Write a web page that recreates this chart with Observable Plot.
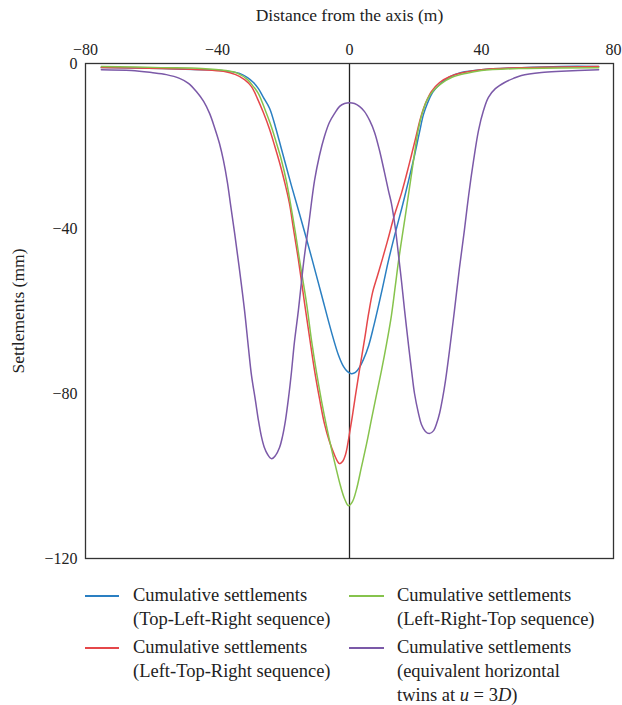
<!DOCTYPE html>
<html>
<head>
<meta charset="utf-8">
<script src="https://cdn.jsdelivr.net/npm/d3@7"></script>
<script src="https://cdn.jsdelivr.net/npm/@observablehq/plot@0.6"></script>
<style>
  body { margin: 0; background: #fff; font-family: "Liberation Serif", "DejaVu Serif", serif; }
  #chart { position: relative; width: 622px; height: 705px; }
  .legend { position: absolute; left: 0; top: 583px; width: 622px; font-size: 18.5px; color: #222; line-height: 24px; }
  .item { position: absolute; left: 0; }
  .sw { position: absolute; top: 12px; height: 1.5px; }
  .lbl { position: absolute; white-space: nowrap; }
</style>
</head>
<body>
<div id="chart"></div>
<script>
// Distance from the tunnel axis (m) and cumulative settlement (mm) for each excavation sequence
const topLeftRightX = [-75.2, -57.0, -44.8, -38.8, -33.3, -30.9, -29.1, -27.6, -26.1, -24.2, -22.4, -20.6, -17.6, -14.5, -11.5, -8.5, -5.5, -3.3, -1.8, -0.6, 0.6, 1.8, 3.0, 4.2, 5.8, 7.3, 8.8, 10.3, 11.8, 13.6, 15.8, 17.9, 19.7, 21.2, 22.4, 23.6, 25.2, 27.3, 30.0, 33.9, 40.0, 52.1, 64.2, 75.5];
const topLeftRightY = [-1.0, -1.2, -1.5, -1.7, -2.4, -3.4, -4.6, -6.1, -8.2, -10.9, -15.5, -20.8, -29.6, -38.3, -47.0, -56.0, -65.0, -70.8, -73.5, -74.7, -75.2, -74.9, -73.7, -71.8, -68.4, -63.8, -58.7, -53.3, -47.8, -41.9, -35.2, -28.4, -22.3, -16.7, -12.4, -9.7, -7.0, -5.1, -3.4, -2.2, -1.5, -1.0, -0.7, -0.7];

const leftTopRightX = [-75.2, -57.0, -44.8, -38.2, -34.5, -31.8, -29.7, -27.9, -26.1, -24.2, -22.7, -21.2, -19.7, -18.2, -17.0, -15.5, -13.6, -12.1, -10.6, -9.1, -7.6, -6.1, -4.5, -3.6, -3.0, -2.1, -1.2, -0.6, 0, 0.9, 1.8, 3.0, 4.5, 5.8, 7.0, 8.5, 10.0, 11.8, 13.6, 15.8, 17.9, 20.0, 21.5, 23.0, 24.8, 27.3, 30.3, 34.5, 40.0, 52.1, 75.5];
const leftTopRightY = [-1.0, -1.2, -1.5, -1.9, -2.7, -3.9, -5.6, -8.5, -11.9, -16.0, -19.9, -24.0, -28.6, -33.9, -40.0, -47.5, -58.2, -66.4, -74.4, -81.2, -87.3, -91.6, -95.0, -96.5, -97.0, -96.5, -94.8, -92.6, -89.7, -85.3, -80.5, -74.4, -67.2, -60.6, -55.5, -51.4, -47.3, -42.2, -36.8, -31.3, -25.0, -18.2, -13.3, -9.7, -6.8, -4.6, -3.2, -2.2, -1.5, -1.0, -0.7];

const leftRightTopX = [-75.2, -57.0, -44.8, -37.6, -33.9, -30.9, -29.1, -27.6, -25.5, -23.6, -22.1, -20.6, -19.1, -17.9, -16.4, -15.2, -13.0, -11.5, -10.0, -8.5, -7.0, -5.5, -3.9, -2.7, -1.5, -0.3, 0.9, 2.1, 3.6, 5.2, 6.7, 8.2, 9.7, 11.2, 12.7, 13.9, 14.8, 16.1, 17.3, 18.5, 19.7, 20.9, 22.1, 23.6, 25.5, 27.9, 30.9, 35.2, 40.0, 52.1, 75.5];
const leftRightTopY = [-0.7, -1.0, -1.2, -1.7, -2.4, -3.9, -5.6, -7.3, -11.4, -15.5, -19.4, -23.5, -28.6, -33.9, -41.0, -47.3, -58.2, -67.2, -74.9, -81.7, -87.8, -93.3, -98.7, -102.5, -105.5, -107.2, -106.2, -103.3, -97.9, -92.1, -86.1, -80.2, -74.4, -68.1, -61.1, -53.8, -48.2, -41.2, -34.9, -28.4, -21.8, -15.8, -11.9, -8.7, -6.5, -4.8, -3.4, -2.4, -1.7, -1.2, -1.0];

const twinsX = [-75.2, -66.1, -60.0, -55.5, -51.5, -48.8, -46.4, -44.2, -42.4, -40.9, -39.4, -38.2, -37.0, -36.1, -34.8, -33.3, -31.8, -30.6, -29.7, -28.5, -27.6, -26.7, -25.8, -24.8, -23.6, -22.4, -21.2, -20.3, -19.4, -18.5, -17.6, -16.7, -15.5, -13.9, -12.4, -10.6, -9.1, -7.6, -6.1, -4.5, -3.0, -1.5, 0, 1.5, 3.0, 4.5, 6.1, 7.6, 9.1, 10.6, 11.8, 12.7, 13.9, 14.8, 15.8, 16.7, 17.9, 18.8, 19.7, 20.9, 21.8, 23.0, 24.2, 25.5, 26.4, 27.3, 28.2, 29.1, 30.3, 31.8, 33.3, 34.8, 36.1, 37.6, 39.1, 40.6, 42.1, 44.2, 47.0, 49.7, 52.1, 58.2, 64.2, 75.5];
const twinsY = [-1.5, -1.7, -2.2, -2.7, -3.6, -4.8, -6.8, -9.2, -12.1, -15.5, -19.4, -23.5, -28.8, -33.9, -41.2, -50.2, -59.9, -69.1, -75.6, -81.7, -86.5, -90.4, -93.1, -94.8, -95.8, -95.0, -93.1, -90.4, -86.5, -81.2, -74.9, -67.6, -59.9, -48.2, -39.3, -28.4, -22.3, -17.7, -14.3, -12.1, -10.4, -9.7, -9.5, -9.7, -10.4, -11.6, -13.8, -16.7, -21.1, -26.4, -30.8, -33.9, -40.0, -46.1, -53.1, -59.9, -68.4, -74.4, -80.0, -84.8, -87.5, -89.2, -89.7, -89.0, -87.3, -84.8, -81.2, -76.8, -69.6, -59.9, -49.7, -40.5, -32.0, -23.5, -16.2, -11.4, -8.2, -6.1, -4.6, -3.6, -2.9, -2.2, -1.9, -1.5];

const xTicks = [-80, -40, 0, 40, 80];
const yTicks = [0, -40, -80, -120];

const seriesNames = ["Top-Left-Right", "Left-Top-Right", "Left-Right-Top", "Twins"];
const seriesColors = ["#2a7fc2", "#e5474a", "#86c34c", "#7b59a8"];
const legendLines = [
  ["Cumulative settlements", "(Top-Left-Right sequence)"],
  ["Cumulative settlements", "(Left-Top-Right sequence)"],
  ["Cumulative settlements", "(Left-Right-Top sequence)"],
  ["Cumulative settlements", "(equivalent horizontal", "twins at <i>u</i> = 3<i>D</i>)"]
];

const toRows = (name, xs, ys) => xs.map((x, i) => ({series: name, x, y: ys[i]}));
const rows = [
  ...toRows(seriesNames[0], topLeftRightX, topLeftRightY),
  ...toRows(seriesNames[1], leftTopRightX, leftTopRightY),
  ...toRows(seriesNames[2], leftRightTopX, leftRightTopY),
  ...toRows(seriesNames[3], twinsX, twinsY)
];

const chart = Plot.plot({
  width: 622,
  height: 570,
  marginTop: 63,
  marginLeft: 85,
  marginRight: 9,
  marginBottom: 12,
  style: {fontFamily: "Liberation Serif, DejaVu Serif, serif", fontSize: "16px", color: "#222", background: "#fff"},
  x: {domain: [-80, 80], axis: "top", ticks: xTicks, tickSize: 0, tickPadding: 9, label: null},
  y: {domain: [-120, 0], ticks: yTicks, tickSize: 0, tickPadding: 8, label: null},
  color: {domain: seriesNames, range: seriesColors},
  marks: [
    Plot.ruleX([0], {stroke: "#222", strokeWidth: 1.3}),
    Plot.line(rows, {x: "x", y: "y", z: "series", stroke: "series", strokeWidth: 1.5, curve: "catmull-rom"}),
    Plot.frame({stroke: "#333", strokeWidth: 1.3}),
    Plot.text(["Distance from the axis (m)"], {frameAnchor: "top", lineAnchor: "middle", textAnchor: "middle", dy: -48, fontSize: 17.5, fill: "#222"}),
    Plot.text(["Settlements (mm)"], {frameAnchor: "left", textAnchor: "middle", lineAnchor: "middle", rotate: -90, dx: -67, fontSize: 17.5, fill: "#222"})
  ]
});
const root = document.getElementById("chart");
root.appendChild(chart);

// Legend below the plot: two columns, two entries each
const legend = document.createElement("div");
legend.className = "legend";
const slots = [
  {sx: 85, sw: 34, tx: 133, top: 0},
  {sx: 85, sw: 34, tx: 133, top: 52},
  {sx: 349, sw: 35, tx: 397, top: 0},
  {sx: 349, sw: 35, tx: 397, top: 52}
];
seriesNames.forEach((name, i) => {
  const s = slots[i];
  const item = document.createElement("div");
  item.className = "item";
  item.style.top = s.top + "px";
  const sw = document.createElement("div");
  sw.className = "sw";
  sw.style.left = s.sx + "px";
  sw.style.width = s.sw + "px";
  sw.style.background = seriesColors[i];
  const lbl = document.createElement("div");
  lbl.className = "lbl";
  lbl.style.left = s.tx + "px";
  lbl.innerHTML = legendLines[i].join("<br>");
  item.appendChild(sw);
  item.appendChild(lbl);
  legend.appendChild(item);
});
root.appendChild(legend);
</script>
</body>
</html>
